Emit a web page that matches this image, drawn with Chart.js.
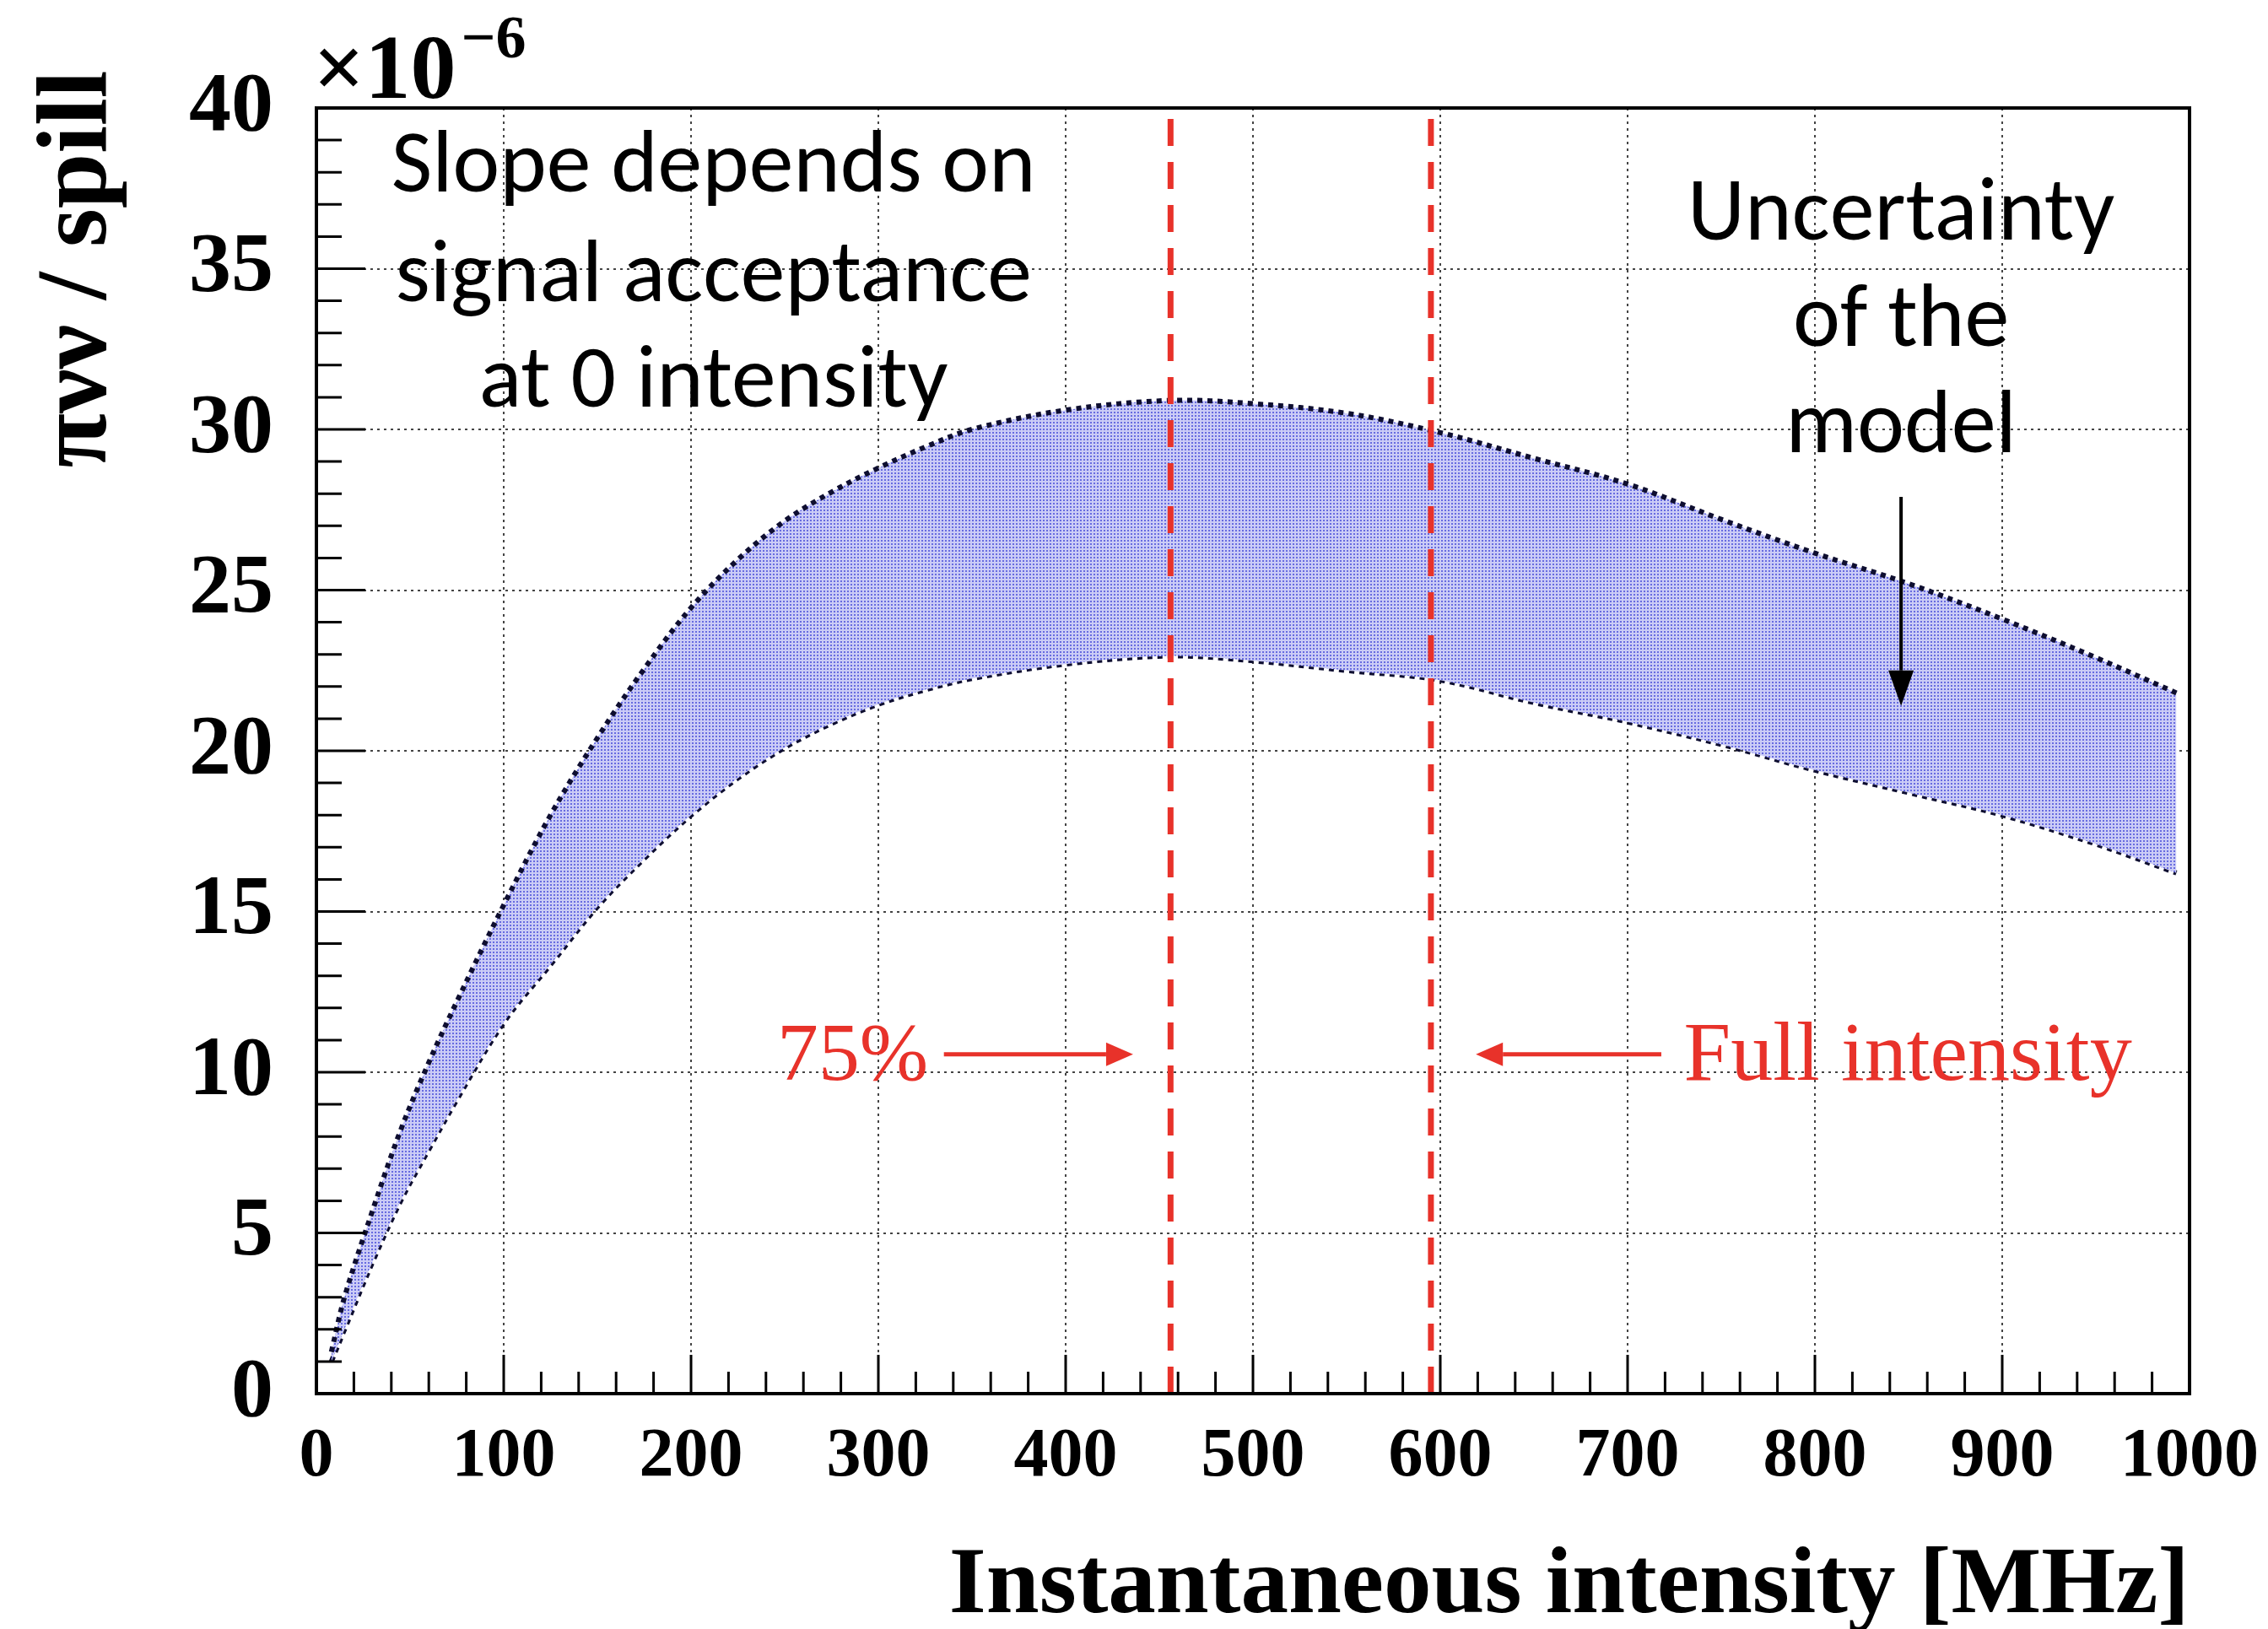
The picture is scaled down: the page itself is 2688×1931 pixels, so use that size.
<!DOCTYPE html>
<html>
<head>
<meta charset="utf-8">
<script src="https://cdn.jsdelivr.net/npm/chart.js@4.4.1/dist/chart.umd.min.js"></script>
<style>
  html, body { margin: 0; padding: 0; background: #fff; }
  canvas { display: block; }
</style>
</head>
<body>
<canvas id="myChart" width="2688" height="1931" style="width:2688px;height:1931px"></canvas>
<script>
// intensity [MHz] and the two edges of the band (x 10^-6 per spill)
const intensity = [8, 15, 30, 45, 60, 75, 100, 125, 150, 175, 200, 225, 250, 275, 300, 325, 350, 400, 456, 500, 550, 600, 650, 700, 750, 800, 850, 900, 950, 993];
const upperBand = [1.3, 3.0, 5.7, 8.2, 10.3, 12.2, 15.2, 18.0, 20.4, 22.55, 24.45, 25.95, 27.15, 28.05, 28.8, 29.45, 30.0, 30.6, 30.9, 30.8, 30.5, 29.9, 29.1, 28.3, 27.2, 26.15, 25.2, 24.1, 22.9, 21.8];
const lowerBand = [1.0, 2.0, 4.1, 6.0, 7.6, 9.15, 11.55, 13.35, 15.15, 16.65, 18.0, 19.15, 20.1, 20.85, 21.45, 21.9, 22.25, 22.7, 22.95, 22.8, 22.5, 22.2, 21.5, 20.9, 20.2, 19.4, 18.7, 18.0, 17.1, 16.2];
const markerLines = [456, 595];   // 75% and full intensity
const xTickLabels = [0, 100, 200, 300, 400, 500, 600, 700, 800, 900, 1000];
const yTickLabels = [0, 5, 10, 15, 20, 25, 30, 35, 40];

const canvas = document.getElementById('myChart');

function bandPattern() {
  const c = document.createElement('canvas');
  c.width = 4; c.height = 4;
  const g = c.getContext('2d');
  g.fillStyle = '#cbccf6';
  g.fillRect(0, 0, 4, 4);
  g.fillStyle = '#676be0';
  g.fillRect(0, 0, 2, 2);
  return canvas.getContext('2d').createPattern(c, 'repeat');
}

// pick a font size so the text gets the wanted width
function fitFont(ctx, text, style, family, w) {
  ctx.font = style + ' 100px ' + family;
  const s = 100 * w / ctx.measureText(text).width;
  return style + ' ' + s.toFixed(1) + 'px ' + family;
}

function arrow(ctx, x1, y1, x2, y2, color, lw, hl, hw) {
  const a = Math.atan2(y2 - y1, x2 - x1);
  const bx = x2 - hl * Math.cos(a), by = y2 - hl * Math.sin(a);
  ctx.strokeStyle = color; ctx.fillStyle = color; ctx.lineWidth = lw;
  ctx.beginPath(); ctx.moveTo(x1, y1); ctx.lineTo(bx, by); ctx.stroke();
  ctx.beginPath();
  ctx.moveTo(x2, y2);
  ctx.lineTo(bx + hw / 2 * Math.sin(a), by - hw / 2 * Math.cos(a));
  ctx.lineTo(bx - hw / 2 * Math.sin(a), by + hw / 2 * Math.cos(a));
  ctx.closePath(); ctx.fill();
}

const SERIF = '"Liberation Serif", "Times New Roman", serif';
const SANS = 'Carlito, Lato, sans-serif';

const overlay = {
  id: 'overlay',
  afterDraw(chart) {
    const {ctx, chartArea: a, scales: {x, y}} = chart;
    ctx.save();

    // inner ticks, ROOT style
    ctx.strokeStyle = '#000';
    ctx.lineWidth = 3;
    ctx.beginPath();
    for (let v = 0; v <= 1000; v += 20) {
      const px = x.getPixelForValue(v);
      const len = v % 100 === 0 ? 46 : 26;
      ctx.moveTo(px, a.bottom); ctx.lineTo(px, a.bottom - len);
    }
    for (let v = 0; v <= 40; v += 1) {
      const py = y.getPixelForValue(v);
      const len = v % 5 === 0 ? 58 : 30;
      ctx.moveTo(a.left, py); ctx.lineTo(a.left + len, py);
    }
    ctx.stroke();

    // frame
    ctx.lineWidth = 4;
    ctx.strokeRect(a.left, a.top, a.right - a.left, a.bottom - a.top);

    // exponent
    ctx.fillStyle = '#000';
    ctx.textAlign = 'left';
    ctx.textBaseline = 'alphabetic';
    ctx.font = 'bold 108px ' + SERIF;
    ctx.fillText('\u00d710', a.left - 4, 116);
    const w10 = ctx.measureText('\u00d710').width;
    ctx.font = 'bold 72px ' + SERIF;
    ctx.fillText('\u22126', a.left + w10 + 2, 68);

    // axis titles
    ctx.font = fitFont(ctx, 'Instantaneous intensity [MHz]', 'bold', SERIF, 1471);
    ctx.textAlign = 'right';
    ctx.fillText('Instantaneous intensity [MHz]', a.right, 1911);

    ctx.save();
    ctx.translate(125, 319);
    ctx.rotate(-Math.PI / 2);
    ctx.font = fitFont(ctx, '\u03c0\u03bd\u03bd / spill', 'bold', SERIF, 471);
    ctx.textAlign = 'center';
    ctx.fillText('\u03c0\u03bd\u03bd / spill', 0, 0);
    ctx.restore();

    // black notes
    ctx.textAlign = 'center';
    ctx.font = fitFont(ctx, 'Slope depends on', 'normal', SANS, 764);
    [['Slope depends on', 37.4], ['signal acceptance', 34.0], ['at 0 intensity', 30.7]].forEach(([t, v]) => {
      ctx.fillText(t, x.getPixelForValue(212), y.getPixelForValue(v));
    });
    ctx.font = fitFont(ctx, 'Uncertainty', 'normal', SANS, 506);
    [['Uncertainty', 35.9], ['of the', 32.6], ['model', 29.3]].forEach(([t, v]) => {
      ctx.fillText(t, x.getPixelForValue(846), y.getPixelForValue(v));
    });
    arrow(ctx, x.getPixelForValue(846), y.getPixelForValue(27.9),
      x.getPixelForValue(846), y.getPixelForValue(21.4), '#000', 4, 42, 30);

    // red notes
    const red = '#e8322a';
    ctx.fillStyle = red;
    ctx.textAlign = 'left';
    ctx.font = fitFont(ctx, '75%', 'normal', SERIF, 179);
    ctx.fillText('75%', x.getPixelForValue(246), y.getPixelForValue(9.76));
    ctx.font = fitFont(ctx, 'Full intensity', 'normal', SERIF, 531);
    ctx.fillText('Full intensity', x.getPixelForValue(730), y.getPixelForValue(9.76));
    const ay = y.getPixelForValue(10.56);
    arrow(ctx, x.getPixelForValue(335), ay, x.getPixelForValue(436), ay, red, 5, 32, 28);
    arrow(ctx, x.getPixelForValue(718), ay, x.getPixelForValue(619), ay, red, 5, 32, 28);

    ctx.restore();
  }
};

const toPoints = ys => ys.map((v, i) => ({x: intensity[i], y: v}));
const edge = {
  borderColor: '#0e0e30',
  borderWidth: 6,
  borderDash: [6, 6],
  pointRadius: 0,
  tension: 0.35,
  order: 2
};

const data = {
  datasets: [
    Object.assign({label: 'upper', data: toPoints(upperBand), fill: '+1', backgroundColor: bandPattern()}, edge),
    Object.assign({label: 'lower', data: toPoints(lowerBand), fill: false}, edge),
    ...markerLines.map(m => ({
      label: m + ' MHz',
      data: [{x: m, y: yTickLabels[0]}, {x: m, y: yTickLabels[yTickLabels.length - 1]}],
      borderColor: '#e8322a',
      borderWidth: 7,
      borderDash: [32, 19],
      pointRadius: 0,
      fill: false,
      order: 1
    }))
  ]
};

const config = {
  type: 'line',
  data: data,
  options: {
    responsive: false,
    animation: false,
    devicePixelRatio: 1,
    layout: { padding: { left: 0, right: 93, top: 128, bottom: 0 } },
    plugins: { legend: { display: false }, tooltip: { enabled: false } },
    scales: {
      x: {
        type: 'linear',
        min: xTickLabels[0],
        max: xTickLabels[xTickLabels.length - 1],
        z: 1,
        afterBuildTicks: s => { s.ticks = xTickLabels.map(v => ({value: v})); },
        afterFit: s => { s.height = 279; s.paddingLeft = 0; s.paddingRight = 0; },
        ticks: {
          autoSkip: false, maxRotation: 0, padding: 27, color: '#000',
          font: { family: SERIF, weight: 'bold', size: 82 },
          callback: v => String(v)
        },
        grid: { color: '#444', lineWidth: 2, drawTicks: false },
        border: { display: false, dash: [3, 5] }
      },
      y: {
        type: 'linear',
        min: yTickLabels[0],
        max: yTickLabels[yTickLabels.length - 1],
        z: 1,
        afterBuildTicks: s => { s.ticks = yTickLabels.map(v => ({value: v})); },
        afterFit: s => { s.width = 375; s.paddingTop = 0; s.paddingBottom = 0; },
        ticks: {
          padding: 51, color: '#000',
          font: { family: SERIF, weight: 'bold', size: 100 },
          callback: v => String(v)
        },
        grid: { color: '#444', lineWidth: 2, drawTicks: false },
        border: { display: false, dash: [3, 5] }
      }
    }
  },
  plugins: [overlay]
};

var myChart = new Chart(canvas, config);
</script>
</body>
</html>
